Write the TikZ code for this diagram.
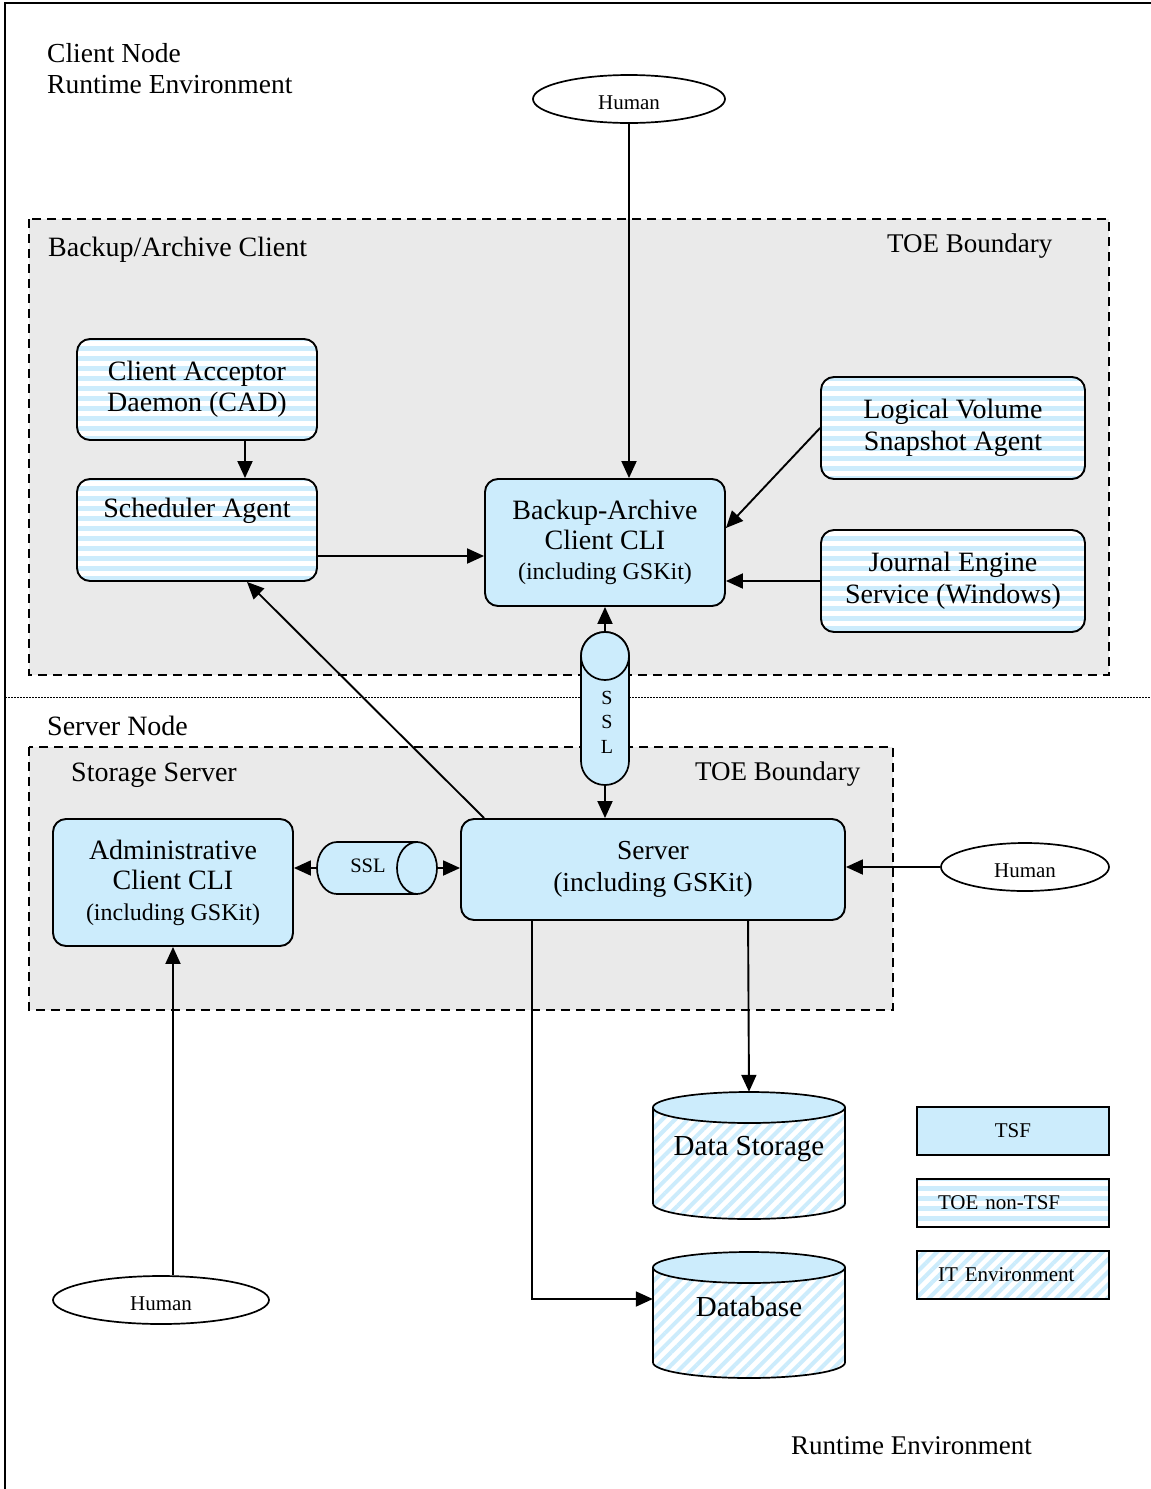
\documentclass[tikz,border=0pt]{standalone}
\usepackage{fontspec}
\setmainfont{Liberation Serif}
\usetikzlibrary{arrows.meta,patterns.meta,shapes.geometric}
\definecolor{tsf}{RGB}{204,236,252}
\definecolor{bggray}{RGB}{234,234,234}
\tikzset{
  mainfont/.style={font=\fontsize{28}{31}\selectfont},
  box/.style={draw, line width=1.9pt, rounded corners=13pt, inner sep=0pt, align=center, mainfont},
  tsfbox/.style={box, fill=tsf},
  nontsfbox/.style={box, preaction={fill=white}, preaction={pattern={Lines[angle=0,distance=10pt,line width=5pt]}, pattern color=tsf}},
  hatchfill/.style={preaction={fill=white}, preaction={pattern={Lines[angle=45,distance=9pt,line width=4pt]}, pattern color=tsf}},
  actor/.style={draw, ellipse, line width=1.7pt, inner sep=0pt, text height=21pt, font=\fontsize{21}{24}\selectfont},
  arr/.style={line width=1.9pt, -{Triangle[length=17pt,width=15pt]}},
  boundary/.style={draw, line width=1.6pt, dash pattern=on 9pt off 6pt, fill=bggray},
  plain/.style={inner sep=0pt, anchor=west, mainfont},
  legend/.style={draw, line width=1.7pt, minimum width=192pt, minimum height=48pt, inner sep=0pt, font=\fontsize{21}{24}\selectfont},
  cyl/.style={line width=1.7pt},
  ghost/.style={inner sep=0pt}
}
\begin{document}
\begin{tikzpicture}[x=1pt,y=-1pt]
\useasboundingbox (0,0) rectangle (1151,1489);
% outer frame
\draw[line width=2pt] (5,1495) -- (5,3) -- (1160,3);
% boundaries
\draw[boundary] (29,219) rectangle (1109,675);
\draw[boundary] (29,747) rectangle (893,1010);
\draw[line width=1pt, dash pattern=on 1.5pt off 1.5pt] (5,697) -- (1151,697);
% labels
\node[plain, align=left, font=\fontsize{27.5}{31}\selectfont] (clientnode) at (47,68.5) {Client Node\\Runtime Environment};
\node[plain] (bacl) at (48,250) {Backup/Archive Client};
\node[plain, font=\fontsize{27}{31}\selectfont] (toe1) at (887,246) {TOE Boundary};
\node[plain] (servernode) at (47,726) {Server Node};
\node[plain] (storsrv) at (71,775) {Storage Server};
\node[plain, font=\fontsize{27}{31}\selectfont] (toe2) at (695,774) {TOE Boundary};
\node[plain, font=\fontsize{27}{31}\selectfont] (rtenv) at (791,1446) {Runtime Environment};
% actors
\node[actor, minimum width=192pt, minimum height=48pt] (humantop) at (629,99) {Human};
\node[actor, minimum width=168pt, minimum height=48pt] (humanright) at (1025,867) {Human};
\node[actor, minimum width=216pt, minimum height=48pt] (humanbl) at (161,1300) {Human};
% client boxes
\node[nontsfbox, minimum width=240pt, minimum height=101pt] (cad) at (197,389.5) {Client Acceptor\\Daemon (CAD)};
\node[nontsfbox, minimum width=240pt, minimum height=102pt,
      label={[mainfont, anchor=center, yshift=-33pt]north:Scheduler Agent}] (sched) at (197,530) {};
\node[tsfbox, minimum width=240pt, minimum height=127pt, font=\fontsize{28}{30}\selectfont] (ba) at (605,542.5)
  {Backup-Archive\\Client CLI\\{\fontsize{24}{30}\selectfont (including GSKit)}};
\node[nontsfbox, minimum width=264pt, minimum height=102pt, font=\fontsize{28}{32}\selectfont] (lv) at (953,428) {Logical Volume\\Snapshot Agent};
\node[nontsfbox, minimum width=264pt, minimum height=102pt, font=\fontsize{28}{32}\selectfont] (je) at (953,581) {Journal Engine\\Service (Windows)};
% server boxes
\node[tsfbox, minimum width=240pt, minimum height=127pt, font=\fontsize{28}{30.5}\selectfont] (admin) at (173,882.5)
  {Administrative\\Client CLI\\{\fontsize{24}{30}\selectfont (including GSKit)}};
\node[tsfbox, minimum width=384pt, minimum height=101pt, font=\fontsize{27.5}{32}\selectfont] (server) at (653,869.5) {Server\\(including GSKit)};
% vertical SSL cylinder
\node[ghost, minimum width=48pt, minimum height=153pt] (sslv) at (605,708.5) {};
\draw[cyl, fill=tsf, rounded corners=23.9pt] (581,632) rectangle (629,785);
\draw[cyl, fill=tsf] (605,656) circle[radius=24pt];
\node[inner sep=0pt, align=center, font=\fontsize{20}{24.5}\selectfont] (sslvtext) at (607,722) {S\\S\\L};
% horizontal SSL cylinder
\node[ghost, minimum width=120pt, minimum height=52pt] (sslh) at (377,868) {};
\draw[cyl, fill=tsf] (417,842) -- (337,842) arc[start angle=90, end angle=270, x radius=20pt, y radius=26pt] -- (417,894) -- cycle;
\draw[cyl, fill=tsf] (417,868) ellipse[x radius=20pt, y radius=26pt];
\node[inner sep=0pt, font=\fontsize{20.5}{24}\selectfont] (sslhtext) at (368,866) {SSL};
% data storage cylinder
\node[ghost, minimum width=192pt, minimum height=127pt] (ds) at (749,1155.5) {};
\draw[cyl, hatchfill] (653,1107.5) -- (653,1203.5) arc[start angle=180, end angle=360, x radius=96pt, y radius=15.5pt] -- (845,1107.5) -- cycle;
\draw[cyl, fill=tsf] (749,1107.5) ellipse[x radius=96pt, y radius=15.5pt];
\node[inner sep=0pt, font=\fontsize{29}{32}\selectfont] (dstext) at (749,1149) {Data Storage};
% database cylinder
\node[ghost, minimum width=192pt, minimum height=126pt] (db) at (749,1315) {};
\draw[cyl, hatchfill] (653,1267.5) -- (653,1362.5) arc[start angle=180, end angle=360, x radius=96pt, y radius=15.5pt] -- (845,1267.5) -- cycle;
\draw[cyl, fill=tsf] (749,1267.5) ellipse[x radius=96pt, y radius=15.5pt];
\node[inner sep=0pt, font=\fontsize{29}{32}\selectfont] (dbtext) at (749,1307) {Database};
% legend
\node[legend, fill=tsf] (legtsf) at (1013,1131) {TSF};
\node[legend, inner xsep=21pt, text width=150pt, align=left, preaction={fill=white}, preaction={pattern={Lines[angle=0,distance=10pt,line width=5pt]}, pattern color=tsf}] (legnon) at (1013,1203) {TOE non-TSF};
\node[legend, inner xsep=21pt, text width=150pt, align=left, hatchfill] (legit) at (1013,1275) {IT Environment};
% connectors
\draw[arr] (humantop.south) -- (humantop.south |- ba.north);
\draw[arr] ([xshift=48pt]cad.south) -- ([xshift=48pt]sched.north);
\draw[arr] ([yshift=-26pt]sched.east) -- ([yshift=-13.5pt]ba.west);
\draw[arr] (lv.west) -- ([yshift=14.5pt]ba.east);
\draw[arr] (je.west) -- ([yshift=-38.5pt]ba.east);
\draw[arr] (sslv.north) -- (ba.south);
\draw[arr] (sslv.south) -- ([xshift=-48pt]server.north);
\draw[arr] (sslh.west) -- (sslh.west -| admin.east);
\draw[arr] (sslh.east) -- (sslh.east -| server.west);
\draw[arr] ([xshift=24pt]server.north west) -- ([xshift=50pt]sched.south);
\draw[arr] (humanright.west) -- (humanright.west -| server.east);
\draw[arr] ([xshift=288pt]server.south west) -- (ds.north);
\draw[arr] ([xshift=72pt]server.south west) |- ([yshift=16pt]db.west);
\draw[arr] ([xshift=12pt]humanbl.north) -- (admin.south);
\end{tikzpicture}
\end{document}
